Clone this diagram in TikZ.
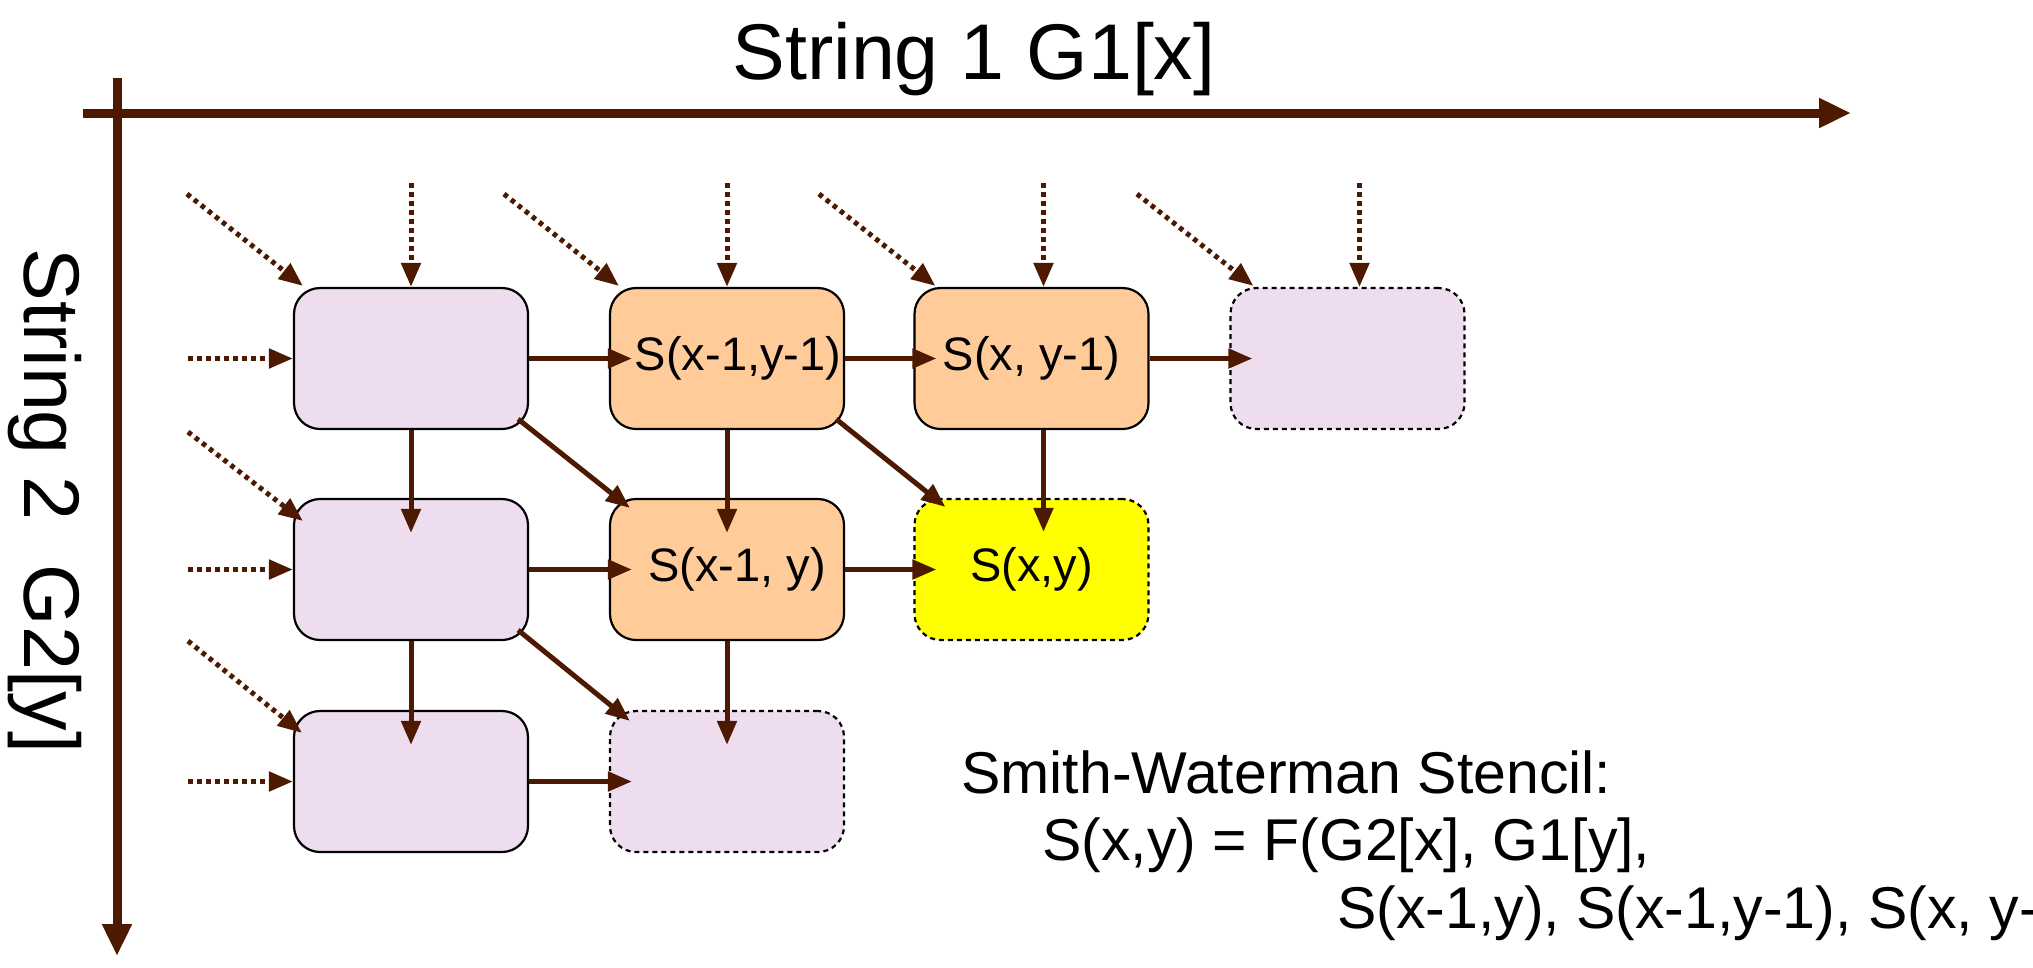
\documentclass[tikz,border=0pt]{standalone}
\usepackage{fontspec}
\setmainfont{Liberation Sans}
\usetikzlibrary{arrows.meta}
\definecolor{brn}{RGB}{77,25,0}
\definecolor{lav}{RGB}{237,221,238}
\definecolor{peach}{RGB}{255,204,153}
\definecolor{yel}{RGB}{255,255,0}
\begin{document}
\begin{tikzpicture}[x=1pt,y=-1pt,
  cell/.style={draw=black, line width=2.2pt, rounded corners=26pt, minimum width=234pt, minimum height=141pt, inner sep=0pt, font=\fontsize{47}{52}\selectfont},
  ghost/.style={cell, dash pattern=on 5pt off 4pt},
  link/.style={draw=brn, line width=5pt, -{Triangle[length=24pt,width=19pt]}},
  feed/.style={link, dash pattern=on 4.5pt off 4.5pt},
  axisline/.style={draw=brn, line width=9pt, -{Triangle[length=32pt,width=28pt]}},
  bigtext/.style={inner sep=0pt, font=\fontsize{79}{90}\selectfont},
  formula/.style={inner sep=0pt, anchor=base west, font=\fontsize{59}{68}\selectfont},
]
\useasboundingbox (0,0) rectangle (2033,967);

% axes
\coordinate (hx0) at (83,113);
\coordinate (hx1) at (1851,113);
\coordinate (vy0) at (117,78);
\coordinate (vy1) at (117,956);
\draw[axisline] (hx0) -- (hx1);
\draw[axisline] (vy0) -- (vy1);

\node[bigtext, anchor=base] (title1) at (974,79) {String 1 G1[x]};
\node[bigtext, anchor=base, rotate=-90] (title2) at (24,501) {String 2\ \ G2[y]};

% cells
\node[cell, fill=lav] (b11) at (411,358.5) {};
\node[cell, fill=peach] (b12) at (727,358.5) {\hspace*{22pt}S(x-1,y-1)};
\node[cell, fill=peach] (b13) at (1031.5,358.5) {S(x, y-1)};
\node[ghost, fill=lav] (b14) at (1347.5,358.5) {};
\node[cell, fill=lav] (b21) at (411,569.5) {};
\node[cell, fill=peach] (b22) at (727,569.5) {\hspace*{20pt}S(x-1, y)};
\node[ghost, fill=yel] (b23) at (1031.5,569.5) {S(x,y)};
\node[cell, fill=lav] (b31) at (411,781.5) {};
\node[ghost, fill=lav] (b32) at (727,781.5) {};

% solid links
\draw[link] (b11.east) -- ([xshift=23pt]b12.west);
\draw[link] (b12.east) -- ([xshift=23pt]b13.west);
\draw[link] (b13.east) -- ([xshift=23pt]b14.west);
\draw[link] (b21.east) -- ([xshift=23pt]b22.west);
\draw[link] (b22.east) -- ([xshift=23pt]b23.west);
\draw[link] (b31.east) -- ([xshift=23pt]b32.west);

\draw[link] (b11.south) -- ([yshift=-35pt]b21.north);
\draw[link] (b12.south) -- ([yshift=-35pt]b22.north);
\draw[link] ([xshift=12pt]b13.south) -- ([xshift=12pt,yshift=-34pt]b23.north);
\draw[link] (b21.south) -- ([yshift=-35pt]b31.north);
\draw[link] (b22.south) -- ([yshift=-35pt]b32.north);

\draw[link] ([xshift=-11pt,yshift=11pt]b11.south east) -- ([xshift=21pt,yshift=-10pt]b22.north west);
\draw[link] ([xshift=-11pt,yshift=11pt]b21.south east) -- ([xshift=21pt,yshift=-11pt]b32.north west);
\draw[link] ([xshift=-9pt,yshift=11pt]b12.south east) -- ([xshift=32pt,yshift=-9pt]b23.north west);

% incoming dotted feeds
\coordinate (l1) at (188,358.5);
\coordinate (l2) at (188,569.5);
\coordinate (l3) at (188,781.5);
\draw[feed] (l1) -- (b11.west);
\draw[feed] (l2) -- (b21.west);
\draw[feed] (l3) -- (b31.west);

\coordinate (u1) at (411,183);
\coordinate (u2) at (727,183);
\coordinate (u3) at (1043.5,183);
\coordinate (u4) at (1359.5,183);
\draw[feed] (u1) -- (b11.north);
\draw[feed] (u2) -- (b12.north);
\draw[feed] (u3) -- ([xshift=12pt]b13.north);
\draw[feed] (u4) -- ([xshift=12pt]b14.north);

\coordinate (d1) at (187,194);
\coordinate (d2) at (504,194);
\coordinate (d3) at (819,194);
\coordinate (d4) at (1137,194);
\coordinate (d5) at (188,432);
\coordinate (d6) at (188,641);
\draw[feed] (d1) -- ([xshift=10pt,yshift=1pt]b11.north west);
\draw[feed] (d2) -- ([xshift=10pt,yshift=1pt]b12.north west);
\draw[feed] (d3) -- ([xshift=22pt,yshift=1pt]b13.north west);
\draw[feed] (d4) -- ([xshift=24pt,yshift=1pt]b14.north west);
\draw[feed] (d5) -- ([xshift=10pt,yshift=-23pt]b21.north west);
\draw[feed] (d6) -- ([xshift=9pt,yshift=-23pt]b31.north west);

% formula
\node[formula] (fa) at (961,793) {Smith-Waterman Stencil:};
\node[formula] (fb) at (1042,860) {S(x,y) = F(G2[x], G1[y],};
\node[formula] (fc) at (1337,928) {S(x-1,y), S(x-1,y-1), S(x, y-1))};
\end{tikzpicture}
\end{document}
